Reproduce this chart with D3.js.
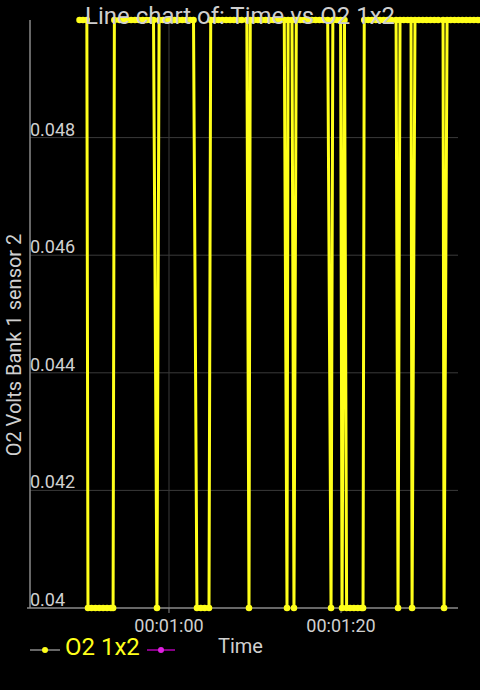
<!DOCTYPE html>
<html><head><meta charset="utf-8">
<script src="https://cdn.jsdelivr.net/npm/d3@7"></script>
<style>html,body{margin:0;padding:0;background:#000;}svg{display:block;}</style>
</head><body>
<script>
// ---- data (seconds since start, O2 volts) ----
const times = [
 49.6, 50.0, 50.45,
 50.58, 51.0, 51.45, 51.9, 52.35, 52.8, 53.25, 53.5,
 53.65, 54.25, 54.7, 55.15, 55.6, 56.05, 56.5, 56.95, 57.4, 57.85, 58.2,
 58.6,
 58.85, 59.3, 59.75, 60.2, 60.65, 61.1, 61.55, 62.0, 62.45, 62.85,
 63.25, 63.7, 64.15, 64.65,
 64.85, 65.3, 65.75, 66.2, 66.65, 67.1, 67.55, 68.0, 68.45, 69.05,
 69.3,
 69.45, 69.9, 70.35, 70.8, 71.25, 71.7, 72.15, 72.6, 73.05, 73.4,
 73.72,
 73.85, 74.3,
 74.53,
 74.8, 75.25, 75.7, 76.15, 76.6, 77.05, 77.5, 77.95, 78.45,
 78.84,
 79.05, 79.5, 79.95,
 80.12,
 80.4,
 80.65, 81.05, 81.5, 81.95, 82.4, 82.56,
 82.7, 83.15, 83.6, 84.05, 84.5, 84.95, 85.4, 85.85, 86.4,
 86.63,
 86.86, 87.3, 87.75, 88.14,
 88.26,
 88.6, 89.05, 89.5, 89.95, 90.4, 90.85, 91.3, 91.86,
 91.98,
 92.33, 92.75, 93.2, 93.65, 94.1, 94.55, 95.0, 95.45, 95.9, 96.3
];
const o2 = [
 0.05, 0.05, 0.05,
 0.04, 0.04, 0.04, 0.04, 0.04, 0.04, 0.04, 0.04,
 0.05, 0.05, 0.05, 0.05, 0.05, 0.05, 0.05, 0.05, 0.05, 0.05, 0.05,
 0.04,
 0.05, 0.05, 0.05, 0.05, 0.05, 0.05, 0.05, 0.05, 0.05, 0.05,
 0.04, 0.04, 0.04, 0.04,
 0.05, 0.05, 0.05, 0.05, 0.05, 0.05, 0.05, 0.05, 0.05, 0.05,
 0.04,
 0.05, 0.05, 0.05, 0.05, 0.05, 0.05, 0.05, 0.05, 0.05, 0.05,
 0.04,
 0.05, 0.05,
 0.04,
 0.05, 0.05, 0.05, 0.05, 0.05, 0.05, 0.05, 0.05, 0.05,
 0.04,
 0.05, 0.05, 0.05,
 0.04,
 0.05,
 0.04, 0.04, 0.04, 0.04, 0.04, 0.04,
 0.05, 0.05, 0.05, 0.05, 0.05, 0.05, 0.05, 0.05, 0.05,
 0.04,
 0.05, 0.05, 0.05, 0.05,
 0.04,
 0.05, 0.05, 0.05, 0.05, 0.05, 0.05, 0.05, 0.05,
 0.04,
 0.05, 0.05, 0.05, 0.05, 0.05, 0.05, 0.05, 0.05, 0.05, 0.05
];
const yTicks = [0.04, 0.042, 0.044, 0.046, 0.048];
const yTickLabels = ["0.04", "0.042", "0.044", "0.046", "0.048"];
const xTicks = [60, 80];
const xTickLabels = ["00:01:00", "00:01:20"];
const xDomain = [43.84, 93.6];
const yDomain = [0.04, 0.05];
const title = "Line chart of: Time vs O2 1x2";
const yTitle = "O2 Volts Bank 1 sensor 2";
const legendNames = ["O2 1x2", "Time"];

// ---- drawing ----
const W = 480, H = 690;
const L = 30, R = 458, T = 20, B = 608;
const font = "Roboto, 'Noto Sans', sans-serif";
const svg = d3.select("body").append("svg").attr("width", W).attr("height", H)
  .style("background", "#000");

const x = d3.scaleLinear().domain(xDomain).range([L, R]);
const y = d3.scaleLinear().domain(yDomain).range([B, T]);

// horizontal grid
svg.append("g").selectAll("line").data(yTicks.slice(1)).join("line")
  .attr("x1", L).attr("x2", R).attr("y1", d => y(d)).attr("y2", d => y(d))
  .attr("stroke", "#3a3a3a").attr("stroke-width", 1);
// vertical grid
svg.append("g").selectAll("line").data(xTicks).join("line")
  .attr("x1", d => x(d)).attr("x2", d => x(d)).attr("y1", T).attr("y2", B)
  .attr("stroke", "#3a3a3a").attr("stroke-width", 1);

// axes lines
svg.append("line").attr("x1", L).attr("x2", L).attr("y1", T).attr("y2", B)
  .attr("stroke", "#8a8a8a").attr("stroke-width", 1.5);
svg.append("line").attr("x1", L - 3).attr("x2", R).attr("y1", B).attr("y2", B)
  .attr("stroke", "#8a8a8a").attr("stroke-width", 1.5);
// x tick marks
svg.append("g").selectAll("line").data(xTicks).join("line")
  .attr("x1", d => x(d)).attr("x2", d => x(d)).attr("y1", B).attr("y2", B + 5)
  .attr("stroke", "#8a8a8a").attr("stroke-width", 1);

// y tick labels (inside, above grid line)
svg.append("g").selectAll("text").data(yTicks).join("text")
  .attr("x", L).attr("y", d => y(d) - 2)
  .attr("fill", "#d0d0d0").attr("font-family", font).attr("font-size", 18)
  .text((d, i) => yTickLabels[i]);
// x tick labels
svg.append("g").selectAll("text").data(xTicks).join("text")
  .attr("x", d => x(d)).attr("y", 632).attr("text-anchor", "middle")
  .attr("fill", "#d0d0d0").attr("font-family", font).attr("font-size", 18)
  .text((d, i) => xTickLabels[i]);

// y title
svg.append("text").attr("transform", "translate(21,345) rotate(-90)")
  .attr("text-anchor", "middle").attr("fill", "#d0d0d0")
  .attr("font-family", font).attr("font-size", 20).text(yTitle);

// data line
const data = times.map((t, i) => ({t, v: o2[i]}));
const yellow = "#ffff1a";
svg.append("path").datum(data)
  .attr("d", d3.line().x(d => x(d.t)).y(d => y(d.v)))
  .attr("fill", "none").attr("stroke", yellow).attr("stroke-width", 3)
  .attr("stroke-linejoin", "round");
svg.append("g").selectAll("circle").data(data).join("circle")
  .attr("cx", d => x(d.t)).attr("cy", d => y(d.v)).attr("r", 3.3)
  .attr("fill", yellow);

// title (drawn over data)
svg.append("text").attr("x", 240).attr("y", 24).attr("text-anchor", "middle")
  .attr("fill", "#cfcfcf").attr("font-family", font).attr("font-size", 24)
  .text(title);

// legend
const lg = svg.append("g");
lg.append("line").attr("x1", 30).attr("x2", 60).attr("y1", 650).attr("y2", 650)
  .attr("stroke", "#8a8a8a").attr("stroke-width", 1.5);
lg.append("circle").attr("cx", 45).attr("cy", 650).attr("r", 3).attr("fill", yellow);
lg.append("text").attr("x", 65).attr("y", 655).attr("fill", yellow)
  .attr("font-family", font).attr("font-size", 24).text(legendNames[0]);
lg.append("line").attr("x1", 147).attr("x2", 175).attr("y1", 650).attr("y2", 650)
  .attr("stroke", "#b000b0").attr("stroke-width", 1.5);
lg.append("circle").attr("cx", 161).attr("cy", 650).attr("r", 3).attr("fill", "#e020e0");
lg.append("text").attr("x", 218).attr("y", 653).attr("fill", "#d0d0d0")
  .attr("font-family", font).attr("font-size", 20).text(legendNames[1]);
</script>
</body></html>
